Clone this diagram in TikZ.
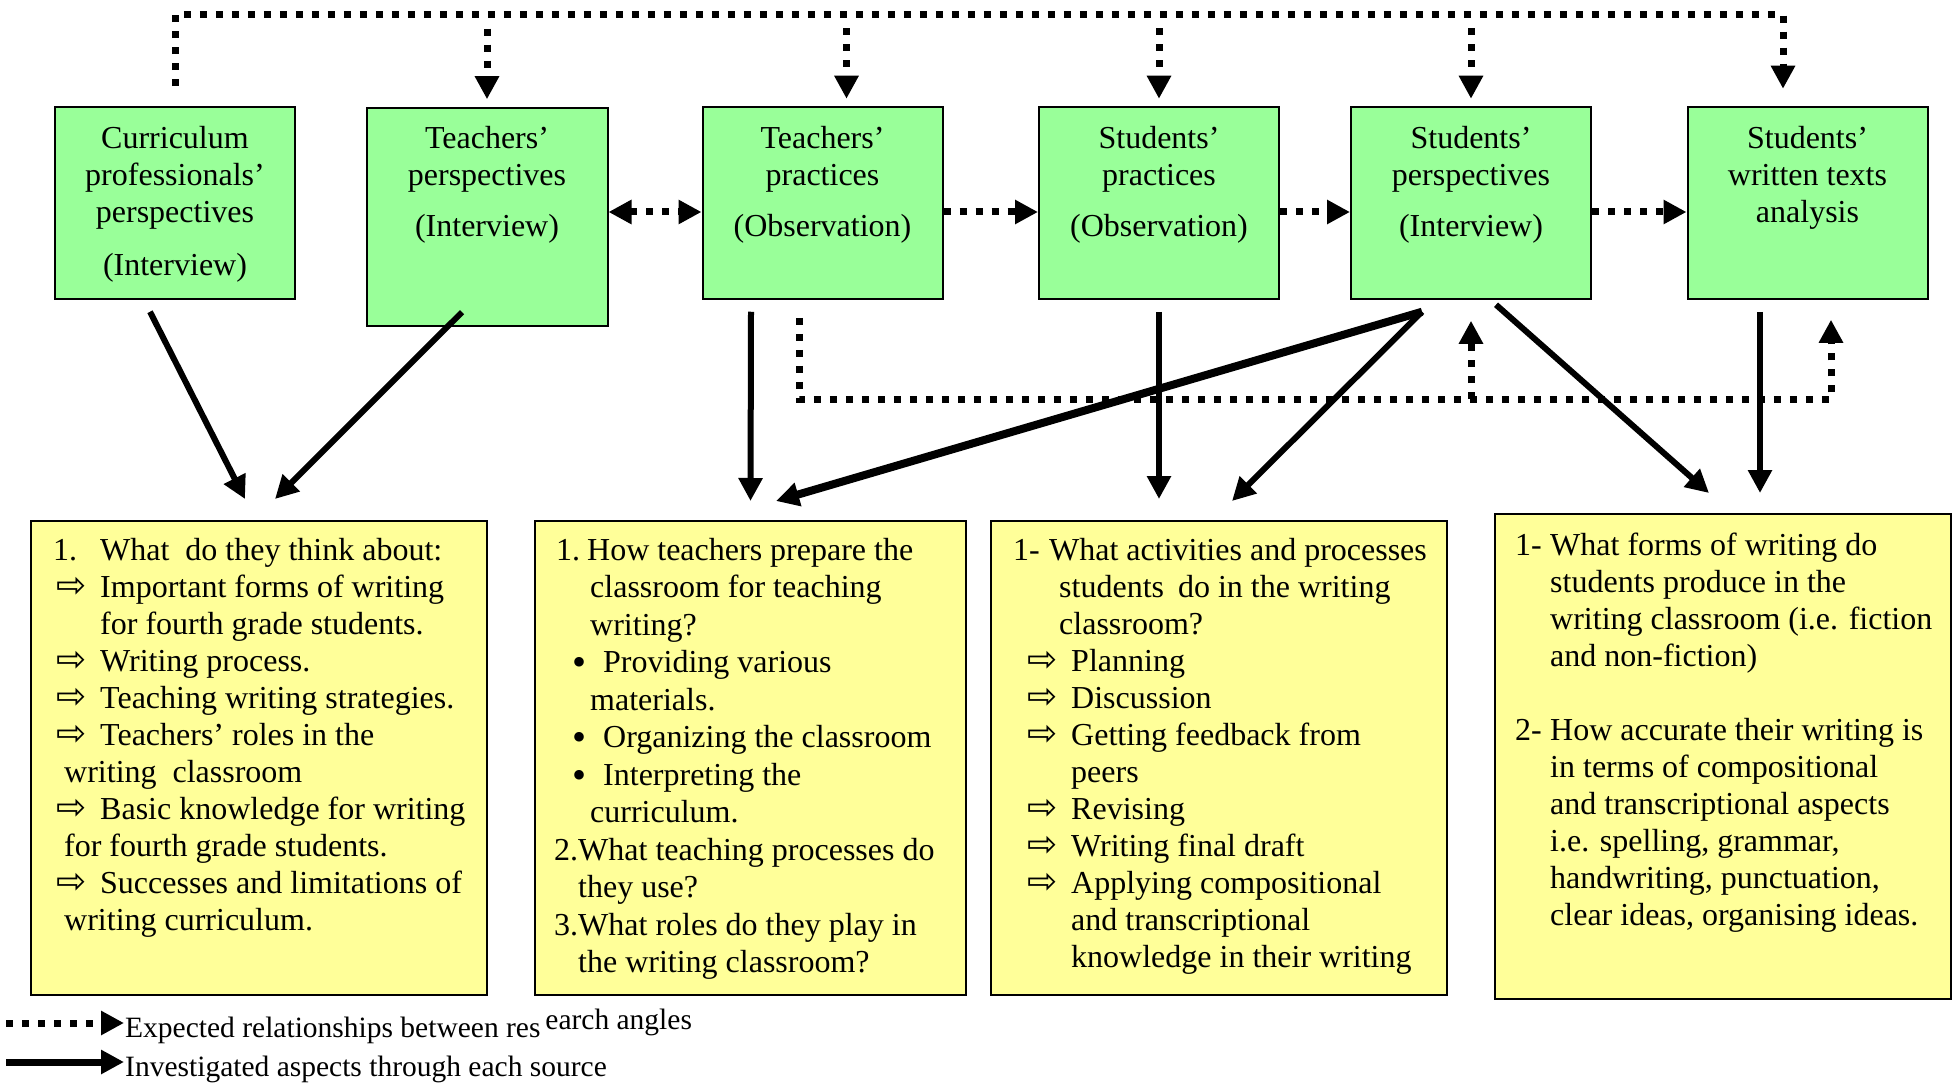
\documentclass[tikz,border=0pt]{standalone}
\usepackage{fontspec}
\setmainfont{Liberation Serif}
\newfontfamily\arwfont{DejaVu Sans}
\usepackage{tikz}
\usetikzlibrary{arrows.meta}
\usetikzlibrary{positioning}

\definecolor{srcgreen}{HTML}{99FF99}
\definecolor{qyellow}{HTML}{FFFF99}

\newcommand{\srcfont}{\fontsize{32}{37}\selectfont}
\newcommand{\qwidefont}{\fontsize{32}{37.5}\selectfont}
\newcommand{\legfont}{\fontsize{29.5}{33}\selectfont}
\newcommand{\warr}[1][3pt]{\hspace*{#1}\makebox[44pt][l]{\arwfont\fontsize{36}{36}\selectfont ⇨}}
\newcommand{\bul}{\hspace*{16pt}\makebox[31pt][l]{\raisebox{-3pt}{\fontsize{40}{30}\selectfont •}}}

\tikzset{
  >={Triangle[length=23pt,width=23pt]},
  srcbox/.style={draw, line width=2pt, fill=srcgreen, minimum width=240pt, minimum height=191.5pt, inner sep=0pt},
  srctext/.style={anchor=base, inner sep=0pt, font=\srcfont},
  qbox/.style={draw, line width=2pt, fill=qyellow, minimum width=456pt, minimum height=474pt, inner sep=0pt},
  qtext/.style={anchor=base west, inner sep=0pt, font=\srcfont},
  legtext/.style={anchor=base west, inner sep=0pt, font=\legfont},
  inv/.style={line width=6pt, ->},
  rel/.style={line width=7pt, dash pattern=on 7pt off 9pt},
}

\begin{document}
\begin{tikzpicture}[x=1pt, y=-1pt]
\useasboundingbox (0,0) rectangle (1960,1086);

% sources
\draw (175,203) node[srcbox] (cur) {};
\draw (487,217) node[srcbox, minimum width=241pt, minimum height=218.5pt] (tpers) {};
\draw (822.5,203) node[srcbox] (tprac) {};
\draw (1159,203) node[srcbox] (sprac) {};
\draw (1471,203) node[srcbox] (spers) {};
\draw (1807.5,203) node[srcbox] (swt) {};

\node[srctext] (cur-t) at ([yshift=-42pt]cur.north) {\begin{tabular}[t]{@{}c@{}}Curriculum\\professionals’\\perspectives\\[16pt](Interview)\end{tabular}};
\node[srctext] (tpers-t) at ([yshift=-42pt]tpers.north) {\begin{tabular}[t]{@{}c@{}}Teachers’\\perspectives\\[14pt](Interview)\end{tabular}};
\node[srctext] (tprac-t) at ([yshift=-42pt]tprac.north) {\begin{tabular}[t]{@{}c@{}}Teachers’\\practices\\[14pt](Observation)\end{tabular}};
\node[srctext] (sprac-t) at ([yshift=-42pt]sprac.north) {\begin{tabular}[t]{@{}c@{}}Students’\\practices\\[14pt](Observation)\end{tabular}};
\node[srctext] (spers-t) at ([yshift=-42pt]spers.north) {\begin{tabular}[t]{@{}c@{}}Students’\\perspectives\\[14pt](Interview)\end{tabular}};
\node[srctext] (swt-t) at ([yshift=-42pt]swt.north) {\begin{tabular}[t]{@{}c@{}}Students’\\written texts\\analysis\end{tabular}};

% questions
\draw (259,758) node[qbox] (q1) {};
\draw (750.5,758) node[qbox, minimum width=431pt] (q2) {};
\draw (1219,758) node[qbox] (q3) {};
\draw (1723,756.5) node[qbox, minimum height=485pt] (q4) {};

\node[qtext] (q1-t) at ([xshift=23pt,yshift=-40pt]q1.north west) {\begin{tabular}[t]{@{}l@{}}
\makebox[47pt][l]{1.}What~\ do they think about:\\
\warr Important forms of writing\\
\hspace*{47pt}for fourth grade students.\\
\warr Writing process.\\
\warr Teaching writing strategies.\\
\warr Teachers’ roles in the\\
\hspace*{11pt}writing~\ classroom\\
\warr Basic knowledge for writing\\
\hspace*{11pt}for fourth grade students.\\
\warr Successes and limitations of\\
\hspace*{11pt}writing curriculum.
\end{tabular}};

\node[qtext, font=\qwidefont] (q2-t) at ([xshift=22pt,yshift=-40pt]q2.north west) {\begin{tabular}[t]{@{}l@{}}
\makebox[31pt][l]{1.}How teachers prepare the\\
\hspace*{34pt}classroom for teaching\\
\hspace*{34pt}writing?\\
\bul Providing various\\
\hspace*{34pt}materials.\\
\bul Organizing the classroom\\
\bul Interpreting the\\
\hspace*{34pt}curriculum.\\
\hspace*{-2pt}2.What teaching processes do\\
\hspace*{22pt}they use?\\
\hspace*{-2pt}3.What roles do they play in\\
\hspace*{22pt}the writing classroom?
\end{tabular}};

\node[qtext] (q3-t) at ([xshift=23pt,yshift=-40pt]q3.north west) {\begin{tabular}[t]{@{}l@{}}
\makebox[36pt][l]{1-}What activities and processes\\
\hspace*{46pt}students\hspace{14pt}do in the writing\\
\hspace*{46pt}classroom?\\
\warr[14pt]Planning\\
\warr[14pt]Discussion\\
\warr[14pt]Getting feedback from\\
\hspace*{58pt}peers\\
\warr[14pt]Revising\\
\warr[14pt]Writing final draft\\
\warr[14pt]Applying compositional\\
\hspace*{58pt}and transcriptional\\
\hspace*{58pt}knowledge in their writing
\end{tabular}};

\node[qtext] (q4-t) at ([xshift=21pt,yshift=-42pt]q4.north west) {\begin{tabular}[t]{@{}l@{}}
\makebox[35pt][l]{1-}What forms of writing do\\
\hspace*{35pt}students produce in the\\
\hspace*{35pt}writing classroom (i.e. fiction\\
\hspace*{35pt}and non-fiction)\\
\\
\makebox[35pt][l]{2-}How accurate their writing is\\
\hspace*{35pt}in terms of compositional\\
\hspace*{35pt}and transcriptional aspects\\
\hspace*{35pt}i.e. spelling, grammar,\\
\hspace*{35pt}handwriting, punctuation,\\
\hspace*{35pt}clear ideas, organising ideas.
\end{tabular}};

% expected relationships
\coordinate (topr) at (1783,15);
\coordinate (botr) at (1831,399);
\draw[rel, ->] ([yshift=20pt]cur.north) |- (topr) -- ([xshift=-24.5pt,yshift=17.5pt]swt.north);
\draw[rel, ->] ([yshift=78pt]tpers.north) -- ([yshift=7.5pt]tpers.north);
\draw[rel, ->] ([xshift=24pt,yshift=78pt]tprac.north) -- ([xshift=24pt,yshift=7.5pt]tprac.north);
\draw[rel, ->] ([yshift=78pt]sprac.north) -- ([yshift=7.5pt]sprac.north);
\draw[rel, ->] ([yshift=78pt]spers.north) -- ([yshift=7.5pt]spers.north);
\draw[rel, <->] ([yshift=5pt]tpers.east) -- ([yshift=-9pt]tprac.west);
\draw[rel, ->] ([yshift=-9pt]tprac.east) -- ([yshift=-9pt]sprac.west);
\draw[rel, ->] ([yshift=-9pt]sprac.east) -- ([yshift=-9pt]spers.west);
\draw[rel, ->] ([yshift=-9pt]spers.east) -- ([yshift=-9pt]swt.west);
\draw[rel, ->] ([xshift=-23.5pt,yshift=-18pt]tprac.south) |- (botr) -- ([xshift=23.5pt,yshift=-20pt]swt.south);
\draw[rel, ->] (spers.south |- botr) -- ([yshift=-21pt]spers.south);

% investigated aspects
\draw[inv] ([xshift=-25pt,yshift=-12pt]cur.south) -- ([xshift=-14pt,yshift=21pt]q1.north);
\draw[inv] ([xshift=-25pt,yshift=15pt]tpers.south) -- ([xshift=16pt,yshift=21pt]q1.north);
\draw[inv] ([xshift=-71.5pt,yshift=-12pt]tprac.south) -- ([yshift=19pt]q2.north);
\draw[inv, line width=8pt] ([xshift=-49pt,yshift=-12pt]spers.south) -- ([xshift=25.5pt,yshift=19pt]q2.north);
\draw[inv] ([yshift=-12pt]sprac.south) -- ([xshift=-60pt,yshift=21pt]q3.north);
\draw[inv] ([xshift=-49pt,yshift=-12pt]spers.south) -- ([xshift=13pt,yshift=19pt]q3.north);
\draw[inv] ([xshift=25pt,yshift=-5pt]spers.south) -- ([xshift=-14pt,yshift=20pt]q4.north);
\draw[inv] ([xshift=-47.5pt,yshift=-12pt]swt.south) -- ([xshift=37pt,yshift=20pt]q4.north);

% legend
\node[legtext] (leg1) at (125,1037) {Expected relationships between res\,\raisebox{8pt}{earch angles}};
\node[legtext] (leg2) at (125,1076) {Investigated aspects through each source};
\draw[rel, ->] ([xshift=-119pt,yshift=14pt]leg1.base west) -- ([xshift=-1pt,yshift=14pt]leg1.base west);
\draw[inv, line width=7pt] ([xshift=-119pt,yshift=14pt]leg2.base west) -- ([xshift=-1pt,yshift=14pt]leg2.base west);

\end{tikzpicture}
\end{document}
